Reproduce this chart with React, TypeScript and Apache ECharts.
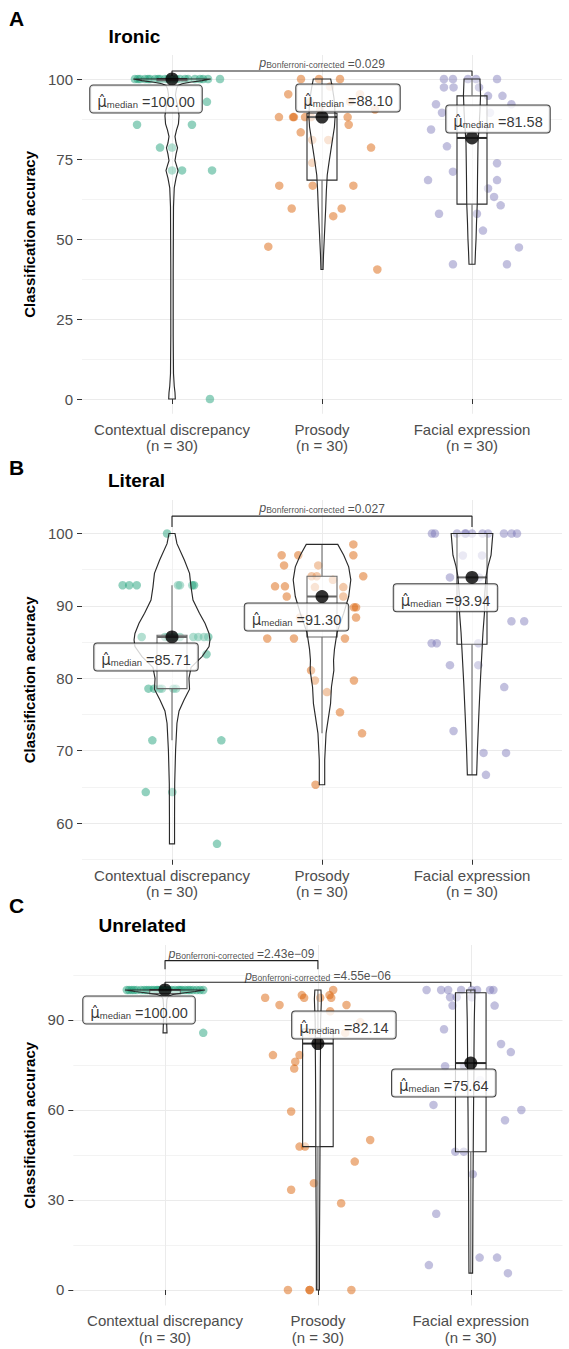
import React, { useEffect, useRef } from "react";
import * as echarts from "echarts";

// ---------------- shared ----------------
const categories = ["Contextual discrepancy", "Prosody", "Facial expression"];
const groupCounts = [30, 30, 30];
const panelLetters = ["A", "B", "C"];
const panelTitles = ["Ironic", "Literal", "Unrelated"];
const groupColors = ["rgba(27,158,119,0.6)", "rgba(217,95,2,0.6)", "rgba(117,112,179,0.55)"];
const yAxisTitle = "Classification accuracy";

// ---------------- Panel A: Ironic ----------------
const ironicCtxJitter = [-0.247, -0.213, -0.18, -0.147, -0.113, -0.08, -0.047, 0, 0.053, 0.107, 0.153, 0.207, 0.24, 0.32, -0.227, -0.16, -0.093, -0.027, 0.027, 0.087, 0.187, 0.233, -0.233, 0.133, -0.08, 0, 0, 0.067, 0.267, 0.253];
const ironicCtxValues = [100, 100, 100, 100, 100, 100, 100, 100, 100, 100, 100, 100, 100, 100, 100, 100, 100, 100, 100, 100, 100, 92.86, 85.71, 85.71, 78.57, 78.57, 71.43, 71.43, 71.43, 0];
const ironicProsJitter = [-0.14, -0.02, 0.12, -0.225, -0.287, -0.193, -0.187, -0.113, 0.171, -0.073, 0.178, -0.142, -0.065, 0.042, 0.327, -0.065, -0.285, -0.062, 0.209, -0.202, 0.131, 0.075, -0.358, 0.369, 0.053, 0.253, -0.08, 0.187, -0.013, 0.353];
const ironicProsValues = [100, 100, 100, 95.24, 88.1, 88.1, 88.1, 88.1, 88.1, 88.1, 85.71, 83.33, 80.95, 80.95, 78.57, 73.81, 66.67, 66.67, 66.67, 59.52, 59.52, 57.14, 47.62, 40.48, 97.62, 95.24, 92.86, 92.86, 90.48, 90.48];
const ironicFaceJitter = [-0.187, -0.127, -0.027, 0.027, 0.167, -0.187, -0.123, 0.047, 0.107, 0.203, -0.24, 0.263, -0.2, 0.12, 0.287, -0.273, -0.167, 0.167, -0.127, -0.293, 0.167, 0.107, 0.147, 0.191, -0.22, 0.033, 0.073, 0.313, -0.127, 0.233];
const ironicFaceValues = [100, 100, 100, 100, 100, 97.37, 97.37, 97.37, 94.74, 94.74, 92.11, 92.11, 89.47, 89.47, 86.84, 84.21, 78.95, 73.68, 71.05, 68.42, 68.42, 65.79, 63.16, 60.53, 57.89, 57.89, 52.63, 47.37, 42.11, 42.11];
const ironicMedians = [100.0, 88.1, 81.58];
// [Q1, median, Q3, lower whisker end, upper whisker end]
const ironicBoxStats = [
  [99.5, 100, 100, 99.5, 100],
  [68.4, 88.1, 89.3, 40.48, 100],
  [60.9, 81.58, 94.74, 42.11, 100],
];
// violin outlines: [value, half-width in category units]
const ironicViolinCtx = [[100, 0.258], [99.5, 0.2], [99, 0.12], [98.5, 0.067], [98, 0.04], [97, 0.03], [95, 0.023], [93, 0.03], [91, 0.04], [88.5, 0.047], [86, 0.043], [84, 0.03], [82, 0.02], [80, 0.027], [78.5, 0.037], [76.5, 0.027], [74.5, 0.02], [73, 0.03], [71.4, 0.04], [69, 0.027], [66, 0.015], [60, 0.01], [40, 0.008], [20, 0.008], [8, 0.01], [4, 0.015], [2, 0.02], [0, 0.022]];
const ironicViolinPros = [[100, 0.058], [97, 0.07], [94, 0.08], [91, 0.085], [88, 0.087], [85, 0.083], [82, 0.073], [78, 0.06], [74, 0.047], [70, 0.035], [65, 0.029], [60, 0.025], [55, 0.02], [50, 0.015], [45, 0.01], [40.48, 0.007]];
const ironicViolinFace = [[100, 0.053], [95, 0.057], [90, 0.053], [85, 0.047], [80, 0.04], [70, 0.037], [61, 0.035], [55, 0.03], [50, 0.027], [46, 0.023], [42.11, 0.02]];
const ironicYTicks = [0, 25, 50, 75, 100];
const ironicYMinorTicks = [12.5, 37.5, 62.5, 87.5];
const ironicComparisons = [[1, 3]];
const ironicPValues = ["0.029"];

// ---------------- Panel B: Literal ----------------
const literalCtxJitter = [-0.033, -0.329, -0.285, -0.235, 0.053, 0.135, 0.147, -0.202, -0.047, 0, 0.053, 0.142, 0.175, 0.213, 0.242, 0.23, -0.157, -0.12, -0.083, 0.009, -0.131, 0.329, -0.175, 0.002, 0.3, 0.02, -0.027, 0.027, -0.067, 0.04];
const literalCtxValues = [100, 92.86, 92.86, 92.86, 92.86, 92.86, 92.86, 85.71, 85.71, 85.71, 85.71, 85.71, 85.71, 85.71, 85.71, 83.33, 78.57, 78.57, 78.57, 78.57, 71.43, 71.43, 64.29, 64.29, 57.14, 85.71, 85.71, 78.57, 78.57, 92.86];
const literalProsJitter = [0.209, -0.269, -0.158, 0.209, -0.253, -0.025, -0.069, -0.035, 0.275, 0.073, -0.313, -0.247, -0.047, 0.142, -0.235, 0.142, 0.213, 0.227, 0.227, -0.365, -0.187, 0.153, -0.073, -0.047, 0.213, 0.033, 0.12, 0.267, -0.043, -0.147];
const literalProsValues = [98.5, 97, 97, 97, 95.6, 95.6, 94.1, 94.1, 94.1, 93.6, 92.7, 92.7, 92.6, 92.6, 91.3, 91.3, 89.8, 89.8, 88.4, 85.5, 85.5, 85.5, 81.1, 79.7, 79.7, 78.1, 75.3, 72.4, 65.3, 88.4];
const literalFaceJitter = [-0.267, -0.247, -0.1, -0.04, 0, 0.07, 0.107, 0.213, 0.264, 0.3, -0.061, 0.067, -0.147, 0.047, 0.263, 0.348, -0.269, -0.235, 0.042, -0.147, 0.042, 0.215, -0.123, 0.077, 0.227, 0.093, -0.08, 0.087, 0, -0.047];
const literalFaceValues = [100, 100, 100, 100, 100, 100, 100, 100, 100, 100, 96.97, 96.97, 93.94, 93.94, 87.88, 87.88, 84.85, 84.85, 84.85, 81.82, 81.82, 78.79, 72.73, 69.7, 69.7, 66.67, 90.91, 90.91, 93.94, 100];
const literalMedians = [85.71, 91.3, 93.94];
const literalBoxStats = [
  [78.57, 85.71, 85.95, 71.43, 92.86],
  [85.7, 91.3, 94.1, 72.4, 98.5],
  [84.7, 93.94, 100, 66.67, 100],
];
const literalViolinCtx = [[100, 0.02], [98.6, 0.033], [96.3, 0.083], [94.5, 0.117], [92.6, 0.127], [90.8, 0.14], [89, 0.183], [87.6, 0.22], [86.2, 0.247], [85.3, 0.253], [84.4, 0.247], [83, 0.2], [81.5, 0.127], [80, 0.113], [78.5, 0.117], [77, 0.08], [75.5, 0.047], [73.8, 0.033], [70.1, 0.024], [65.5, 0.018], [60.9, 0.017], [57.14, 0.017]];
const literalViolinPros = [[98.5, 0.105], [97, 0.145], [95.4, 0.178], [93.6, 0.192], [91.3, 0.178], [89, 0.145], [86.3, 0.1], [84, 0.083], [82.5, 0.077], [81.1, 0.079], [78.8, 0.063], [76.5, 0.057], [72.4, 0.027], [68.7, 0.018], [65.3, 0.018]];
const literalViolinFace = [[100, 0.139], [98.5, 0.133], [97, 0.127], [95.5, 0.107], [94, 0.093], [91, 0.083], [89, 0.083], [86.3, 0.073], [84, 0.067], [79.3, 0.055], [74.7, 0.045], [70.1, 0.036], [66.67, 0.031]];
const literalYTicks = [60, 70, 80, 90, 100];
const literalYMinorTicks = [55, 65, 75, 85, 95];
const literalComparisons = [[1, 3]];
const literalPValues = ["0.027"];

// ---------------- Panel C: Unrelated ----------------
const unrelCtxJitter = [-0.25, -0.218, -0.185, -0.12, -0.087, -0.054, -0.011, 0.044, 0.087, 0.131, 0.164, 0.207, 0.25, -0.235, -0.203, -0.157, -0.105, -0.072, -0.033, 0.007, 0.026, 0.065, 0.111, 0.15, 0.183, 0.229, -0.137, -0.046, 0.098, 0.25];
const unrelCtxValues = [100, 100, 100, 100, 100, 100, 100, 100, 100, 100, 100, 100, 100, 100, 100, 100, 100, 100, 100, 100, 100, 100, 100, 100, 100, 100, 100, 100, 100, 85.71];
const unrelProsJitter = [0.1, -0.105, 0.076, -0.345, -0.09, 0.015, 0.087, -0.251, 0.187, -0.294, -0.12, -0.148, -0.155, -0.175, -0.12, -0.084, 0.342, 0.241, -0.026, -0.175, 0.152, -0.196, -0.054, 0.219, 0.08, 0.277, -0.05, 0.179, 0, -0.054];
const unrelProsValues = [100, 98.3, 98.3, 97.4, 97.4, 97.4, 97.4, 95, 95, 78.3, 78.3, 76.1, 73.8, 59.5, 47.8, 47.8, 50, 42.8, 35.6, 33.4, 28.9, 0, 0, 0, 92.9, 89.3, 85.7, 85.7, 82.1, 0];
const unrelFaceJitter = [-0.289, -0.194, -0.148, -0.063, 0.006, 0.041, 0.126, 0.148, -0.135, -0.092, 0.006, -0.119, 0.156, -0.175, 0.198, 0.262, -0.168, -0.044, -0.244, 0.331, 0.224, -0.101, -0.046, 0.013, -0.226, 0.058, 0.172, -0.274, 0.243, 0.061];
const unrelFaceValues = [100, 100, 100, 100, 100, 100, 100, 100, 97.6, 97.6, 97.6, 94.8, 94.8, 86.9, 82, 79.3, 74.6, 74.6, 61.7, 60, 56.6, 46.1, 46.1, 38.6, 25.4, 10.8, 10.8, 8.3, 5.6, 70];
const unrelMedians = [100.0, 82.14, 75.64];
const unrelBoxStats = [
  [98.8, 100, 100, 98.8, 100],
  [47.8, 82.14, 87, 0, 100],
  [46.1, 75.64, 99.1, 5.6, 100],
];
const unrelViolinCtx = [[100, 0.262], [99.5, 0.196], [99, 0.118], [98.5, 0.052], [98, 0.023], [97, 0.013], [95, 0.01], [90, 0.01], [87, 0.012], [85.71, 0.013]];
const unrelViolinPros = [[100, 0.02], [97, 0.023], [94, 0.021], [90, 0.018], [85, 0.017], [80, 0.017], [75, 0.016], [60, 0.014], [50, 0.014], [40, 0.013], [30, 0.012], [15, 0.01], [0, 0.01]];
const unrelViolinFace = [[100, 0.027], [97, 0.026], [90, 0.023], [80, 0.021], [75, 0.021], [60, 0.018], [46, 0.016], [30, 0.014], [15, 0.013], [5.6, 0.012]];
const unrelYTicks = [0, 30, 60, 90];
const unrelYMinorTicks = [15, 45, 75, 105];
const unrelComparisons = [[1, 2], [1, 3]];
const unrelPValues = ["2.43e\u221209", "4.55e\u221206"];

// ---------------- assemble data per panel ----------------
const panelData = [
  {
    jitter: [ironicCtxJitter, ironicProsJitter, ironicFaceJitter],
    values: [ironicCtxValues, ironicProsValues, ironicFaceValues],
    medians: ironicMedians, boxes: ironicBoxStats,
    violins: [ironicViolinCtx, ironicViolinPros, ironicViolinFace],
    ticks: ironicYTicks, minor: ironicYMinorTicks,
    comps: ironicComparisons, pvals: ironicPValues,
  },
  {
    jitter: [literalCtxJitter, literalProsJitter, literalFaceJitter],
    values: [literalCtxValues, literalProsValues, literalFaceValues],
    medians: literalMedians, boxes: literalBoxStats,
    violins: [literalViolinCtx, literalViolinPros, literalViolinFace],
    ticks: literalYTicks, minor: literalYMinorTicks,
    comps: literalComparisons, pvals: literalPValues,
  },
  {
    jitter: [unrelCtxJitter, unrelProsJitter, unrelFaceJitter],
    values: [unrelCtxValues, unrelProsValues, unrelFaceValues],
    medians: unrelMedians, boxes: unrelBoxStats,
    violins: [unrelViolinCtx, unrelViolinPros, unrelViolinFace],
    ticks: unrelYTicks, minor: unrelYMinorTicks,
    comps: unrelComparisons, pvals: unrelPValues,
  },
];

// ---------------- layout (pixels / axis ranges) ----------------
const layouts = [
  {
    left: 82, top: 55, width: 480, height: 358.75, yMin: -4.6, yMax: 107.5, nameGap: 38,
    letterTop: 7, titleTop: 26, titleLeft: 108.5,
    labelOffsets: [[-26, 20], [26, -19], [26, -19]],
    bracketY: [[102.5, 100.9]], pTextY: [105.2],
  },
  {
    left: 82, top: 500, width: 480, height: 359.75, yMin: 54.94, yMax: 104.63, nameGap: 38,
    letterTop: 456, titleTop: 470, titleLeft: 108,
    labelOffsets: [[-26, 20], [-25.5, 20.5], [-26.5, 20.4]],
    bracketY: [[102.4, 100.9]], pTextY: [103.6],
  },
  {
    left: 73.3, top: 945, width: 489.2, height: 360.5, yMin: -5.17, yMax: 115, nameGap: 29,
    letterTop: 894, titleTop: 915, titleLeft: 98.5,
    labelOffsets: [[-26, 20], [26, -18.6], [-27, 20]],
    bracketY: [[109.8, 106.9], [102.6, 101.1]], pTextY: [112.4, 105.0],
  },
];

const FONT = "'Liberation Sans', Arial, Helvetica, sans-serif";
const SLOTS = [3, 8, 13]; // category slots on a 17-slot axis (0.4..3.6 in steps of 0.2)
const BOX_HALF = 0.1;
const INK = "#2a2a2a";

function buildOption() {
  const grid: any[] = [];
  const xAxis: any[] = [];
  const yAxis: any[] = [];
  const series: any[] = [];
  const title: any[] = [];

  layouts.forEach((L, pi) => {
    const D = panelData[pi];
    grid.push({ left: L.left, top: L.top, width: L.width, height: L.height, containLabel: false });

    const slotLabels = Array.from({ length: 17 }, () => "");
    SLOTS.forEach((s, g) => {
      slotLabels[s] = `${categories[g]}\n(n = ${groupCounts[g]})`;
    });
    const isSlot = (i: number) => SLOTS.indexOf(i) >= 0;

    xAxis.push({
      type: "category", gridIndex: pi, data: slotLabels, boundaryGap: false,
      axisLine: { show: false },
      axisTick: { show: true, length: 5, interval: isSlot, lineStyle: { color: "#333", width: 1 } },
      axisLabel: { show: true, interval: 0, margin: 7, color: "#4D4D4D", fontSize: 15, lineHeight: 16.5, fontFamily: FONT },
      splitLine: { show: true, interval: isSlot, lineStyle: { color: "#EBEBEB", width: 1 } },
    });
    xAxis.push({ type: "value", gridIndex: pi, min: 0.4, max: 3.6, show: false });

    yAxis.push({
      type: "value", gridIndex: pi, min: L.yMin, max: L.yMax, position: "left",
      axisLine: { show: false },
      axisTick: { show: true, length: 5, customValues: D.ticks, lineStyle: { color: "#333", width: 1 } },
      axisLabel: { show: true, customValues: D.ticks, margin: 9, color: "#4D4D4D", fontSize: 15, fontFamily: FONT },
      splitLine: { show: true, lineStyle: { color: "#EBEBEB", width: 1 } },
      name: yAxisTitle, nameLocation: "middle", nameRotate: 90, nameGap: L.nameGap,
      nameTextStyle: { fontSize: 15, fontWeight: "bold", color: "#000", fontFamily: FONT },
    });
    yAxis.push({
      type: "value", gridIndex: pi, min: L.yMin, max: L.yMax, position: "left",
      axisLine: { show: false },
      axisTick: { show: false, customValues: D.minor },
      axisLabel: { show: false, customValues: D.minor },
      splitLine: { show: true, lineStyle: { color: "#F0F0F0", width: 0.8 } },
    });

    const xi = pi * 2 + 1;
    const yi = pi * 2;

    // jittered points
    [0, 1, 2].forEach((g) => {
      series.push({
        type: "scatter", xAxisIndex: xi, yAxisIndex: yi, silent: true, z: 2,
        symbol: "circle", symbolSize: 8.5,
        itemStyle: { color: groupColors[g], borderWidth: 0 },
        data: D.jitter[g].map((j, k) => [g + 1 + j, D.values[g][k]]),
      });
    });

    // boxplots
    series.push({
      type: "custom", xAxisIndex: xi, yAxisIndex: yi, silent: true, z: 3,
      data: D.medians.map((m, g) => [g + 1, m]),
      renderItem: (params: any, api: any) => {
        const g = params.dataIndex;
        const [q1, med, q3, lo, hi] = D.boxes[g];
        const c = g + 1;
        const tl = api.coord([c - BOX_HALF, q3]);
        const br = api.coord([c + BOX_HALF, q1]);
        const cx = api.coord([c, 0])[0];
        const yHi = api.coord([c, hi])[1];
        const yLo = api.coord([c, lo])[1];
        const yMed = api.coord([c, med])[1];
        const ln = { stroke: INK, lineWidth: 1.1 };
        return {
          type: "group",
          children: [
            { type: "line", shape: { x1: cx, y1: yHi, x2: cx, y2: tl[1] }, style: ln },
            { type: "line", shape: { x1: cx, y1: br[1], x2: cx, y2: yLo }, style: ln },
            { type: "rect", shape: { x: tl[0], y: tl[1], width: br[0] - tl[0], height: Math.max(br[1] - tl[1], 0.5) }, style: { fill: "rgba(255,255,255,0.5)", stroke: INK, lineWidth: 1.1 } },
            { type: "line", shape: { x1: tl[0], y1: yMed, x2: br[0], y2: yMed }, style: { stroke: INK, lineWidth: 2 } },
          ],
        };
      },
    });

    // violins
    series.push({
      type: "custom", xAxisIndex: xi, yAxisIndex: yi, silent: true, z: 4,
      data: D.medians.map((m, g) => [g + 1, m]),
      renderItem: (params: any, api: any) => {
        const g = params.dataIndex;
        const shape = D.violins[g];
        const c = g + 1;
        const pts: number[][] = [];
        shape.forEach(([v, hw]) => pts.push(api.coord([c + hw, v])));
        for (let k = shape.length - 1; k >= 0; k--) pts.push(api.coord([c - shape[k][1], shape[k][0]]));
        return {
          type: "polygon",
          shape: { points: pts },
          style: { fill: "rgba(255,255,255,0.3)", stroke: INK, lineWidth: 1.15 },
        };
      },
    });

    // significance brackets and p-value texts
    D.comps.forEach(([a, b], ci) => {
      const [yTop, yDrop] = L.bracketY[ci];
      series.push({
        type: "line", xAxisIndex: xi, yAxisIndex: yi, silent: true, z: 5,
        symbol: "none", lineStyle: { color: "#222", width: 1.1 },
        data: [[a, yDrop], [a, yTop], [b, yTop], [b, yDrop]],
      });
      series.push({
        type: "scatter", xAxisIndex: xi, yAxisIndex: yi, silent: true, z: 7,
        symbolSize: 0,
        data: [[(a + b) / 2, L.pTextY[ci]]],
        label: {
          show: true, position: "inside",
          formatter: `{p|p}{sub|Bonferroni-corrected}{v| =${D.pvals[ci]}}`,
          rich: {
            p: { fontStyle: "italic", fontSize: 12.5, fontFamily: FONT, color: "#222", verticalAlign: "bottom", lineHeight: 15 },
            sub: { fontSize: 8.6, fontFamily: FONT, color: "#222", verticalAlign: "bottom", lineHeight: 10 },
            v: { fontSize: 12, fontFamily: FONT, color: "#222", verticalAlign: "bottom", lineHeight: 15 },
          },
        },
      });
    });

    // median points with labels
    series.push({
      type: "scatter", xAxisIndex: xi, yAxisIndex: yi, silent: true, z: 6,
      symbol: "circle", symbolSize: 13,
      itemStyle: { color: "#000" },
      data: D.medians.map((m, g) => ({
        value: [g + 1, m],
        label: {
          show: true, position: "inside", offset: L.labelOffsets[g],
          formatter: `{mu|\u03BC\u0302}{sub|median}{val| =${m.toFixed(2)}}`,
          backgroundColor: "#fff", borderColor: "#111", borderWidth: 1, borderRadius: 3,
          padding: [4, 7, 3, 7],
          rich: {
            mu: { fontSize: 15, fontFamily: "'DejaVu Sans', sans-serif", color: "#000", verticalAlign: "bottom", lineHeight: 20 },
            sub: { fontSize: 9.5, fontFamily: FONT, color: "#000", verticalAlign: "bottom", lineHeight: 13 },
            val: { fontSize: 14.5, fontFamily: FONT, color: "#000", verticalAlign: "bottom", lineHeight: 20 },
          },
        },
      })),
    });

    title.push({
      text: panelLetters[pi], left: 9, top: L.letterTop, padding: 0,
      textStyle: { fontSize: 21, fontWeight: "bold", color: "#000", fontFamily: FONT, lineHeight: 22 },
    });
    title.push({
      text: panelTitles[pi], left: L.titleLeft, top: L.titleTop, padding: 0,
      textStyle: { fontSize: 19, fontWeight: "bold", color: "#000", fontFamily: FONT, lineHeight: 20 },
    });
  });

  return { animation: false, backgroundColor: "#fff", title, grid, xAxis, yAxis, series };
}

export default function App() {
  const ref = useRef<HTMLDivElement>(null);
  useEffect(() => {
    document.body.style.margin = "0";
    if (!ref.current) return;
    const chart = echarts.init(ref.current, null, { renderer: "svg" });
    chart.setOption(buildOption() as any);
    return () => chart.dispose();
  }, []);
  return <div ref={ref} style={{ width: 569, height: 1349, background: "#fff" }} />;
}
